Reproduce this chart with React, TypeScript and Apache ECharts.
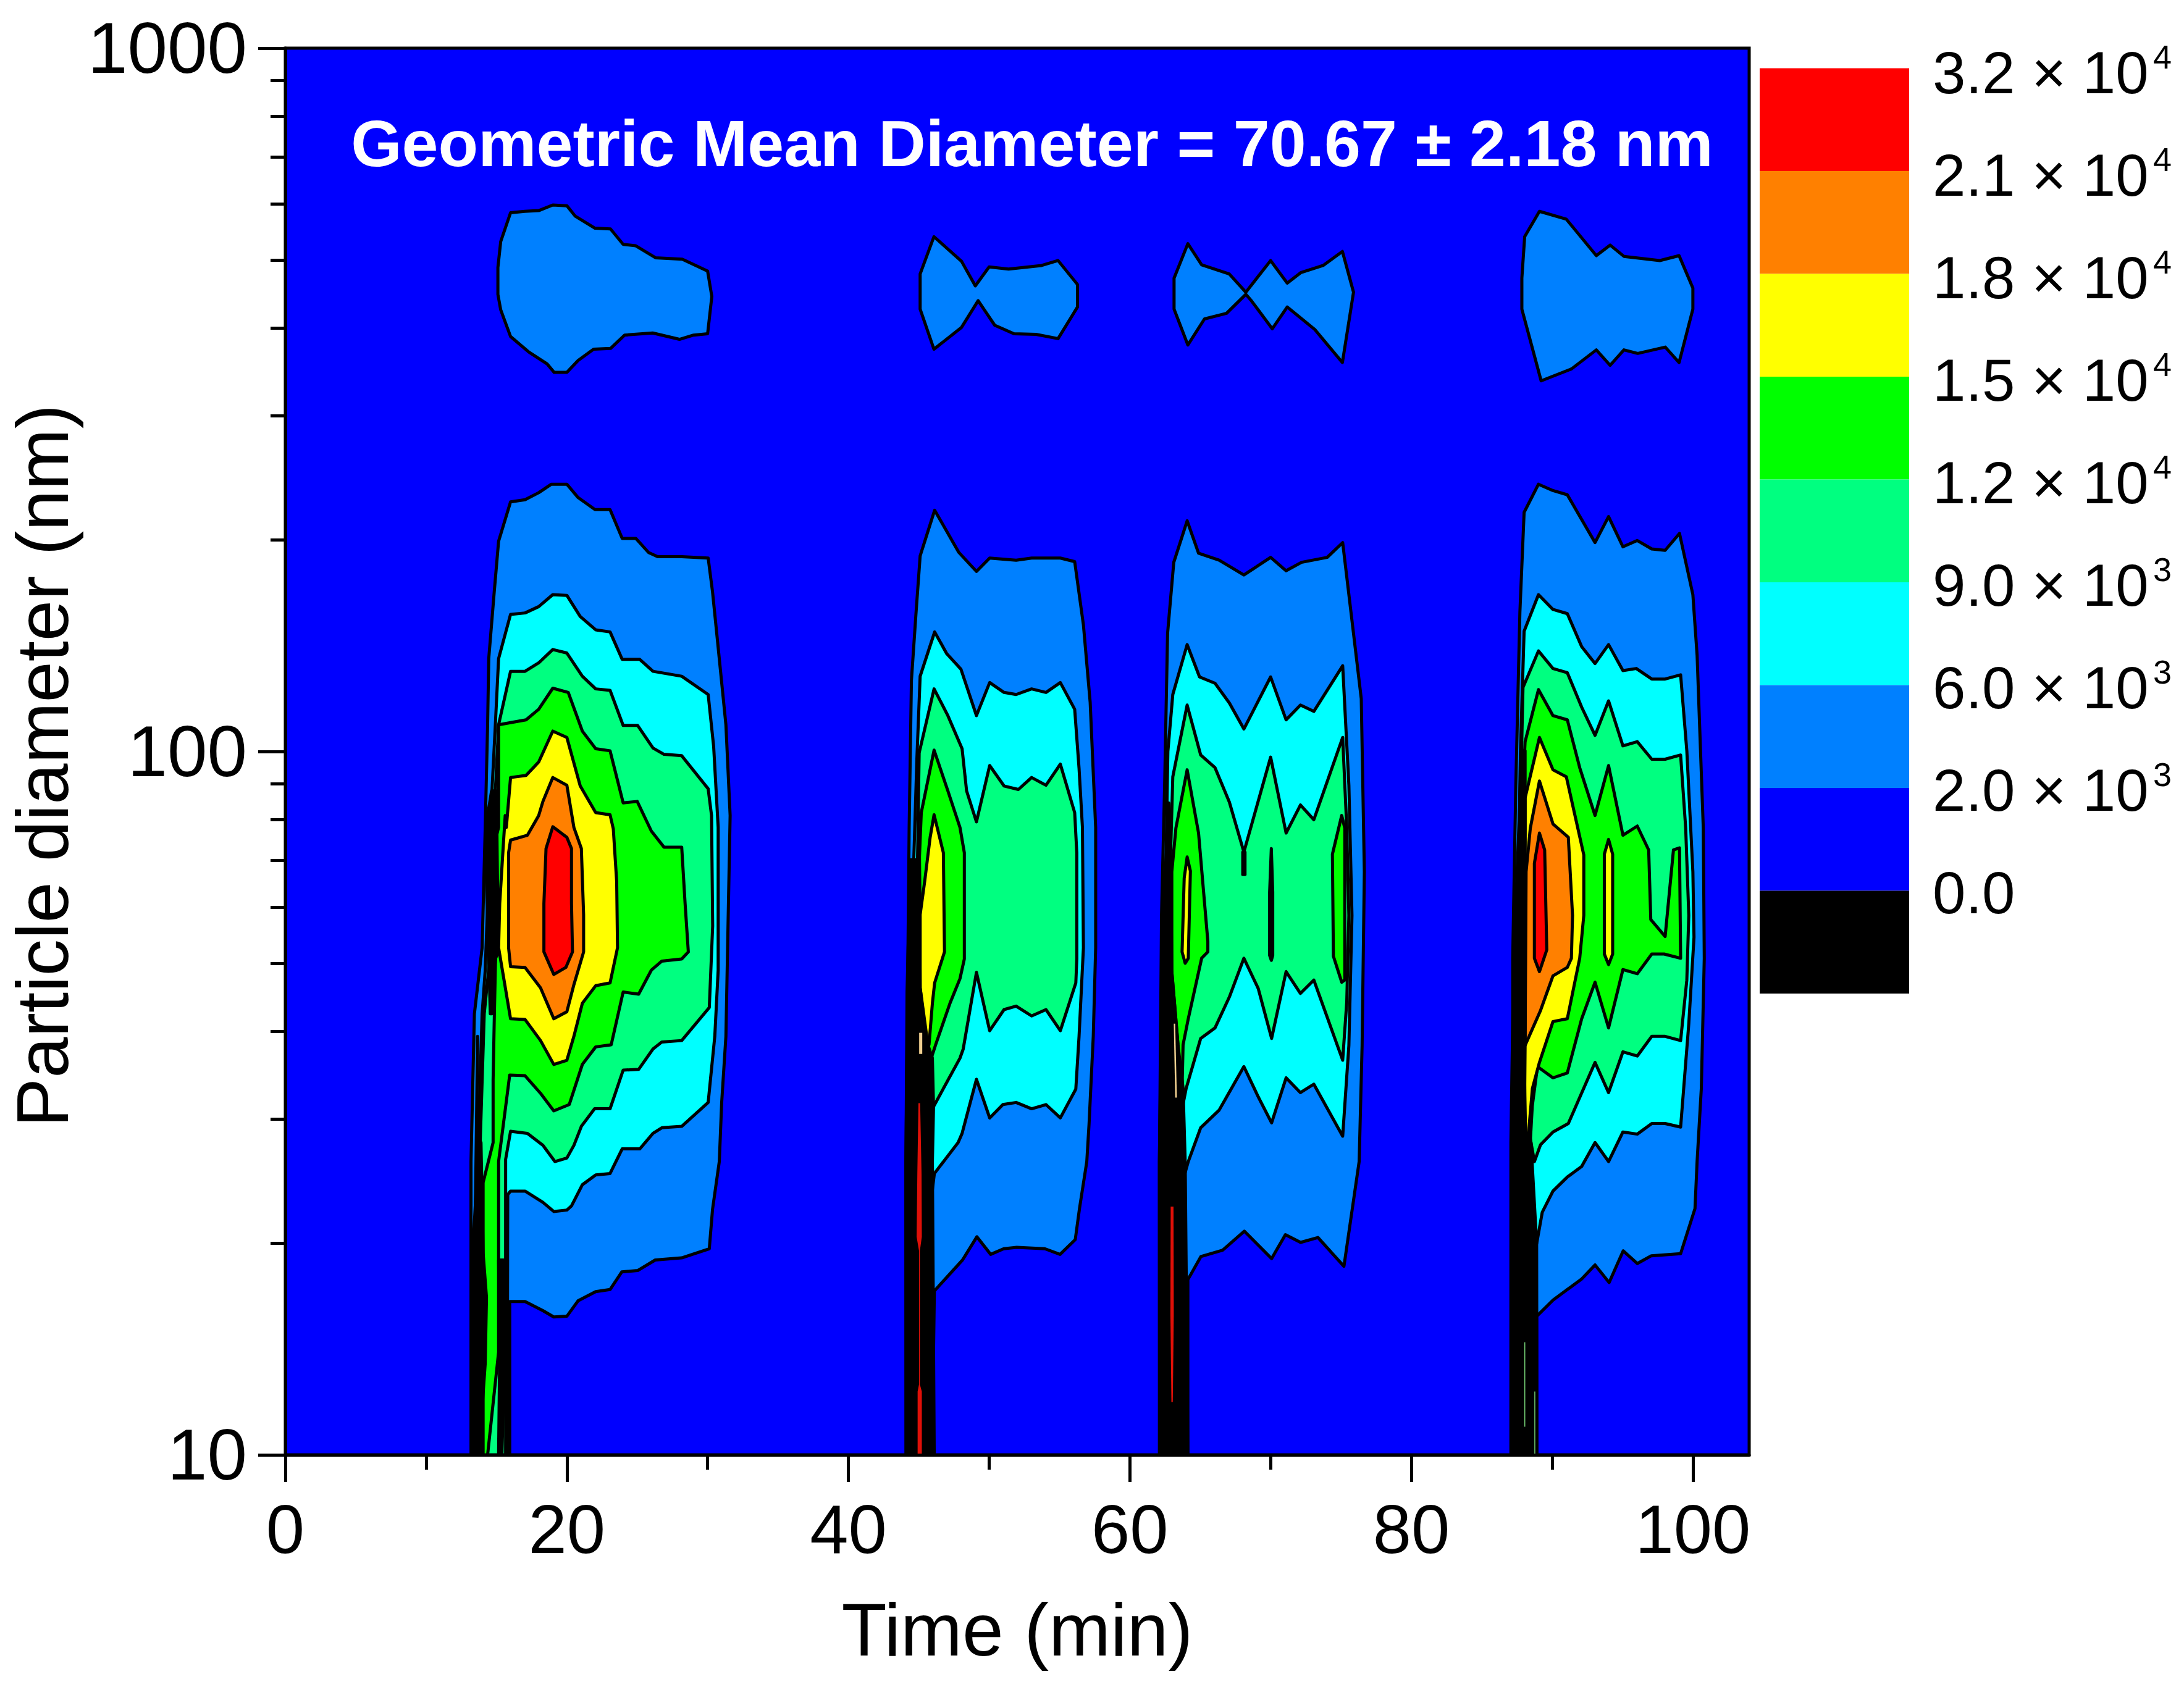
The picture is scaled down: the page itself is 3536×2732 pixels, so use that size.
import React, { useEffect, useRef } from "react";
import * as echarts from "echarts";

// All contour vertices are [time in min, log10(diameter in nm)].
type P = [number, number];

const levelColors = ["#0080FF", "#00FFFF", "#00FF80", "#00FF00", "#FFFF00", "#FF8000", "#FF0000"];
const scaleColors = ["#FF0000", "#FF8000", "#FFFF00", "#00FF00", "#00FF80", "#00FFFF", "#0080FF", "#0000FF", "#000000"];
const scaleMantissa = ["3.2 × 10", "2.1 × 10", "1.8 × 10", "1.5 × 10", "1.2 × 10", "9.0 × 10", "6.0 × 10", "2.0 × 10", "0.0"];
const scaleExponent = ["4", "4", "4", "4", "4", "3", "3", "3", ""];
const xMajorTicks = [0, 20, 40, 60, 80, 100];
const xMinorTicks = [10, 30, 50, 70, 90];
const yMajorTicks = [10, 100, 1000];
const yMinorTicks = [20, 30, 40, 50, 60, 70, 80, 90, 200, 300, 400, 500, 600, 700, 800, 900];

// Upper lobes (2.0e3 level)
const lobe1: P[] = [[16,2.766],[17,2.768],[18,2.769],[19,2.777],[20,2.776],[20.6,2.761],[22,2.744],[23.1,2.743],[24,2.721],[24.9,2.719],[26.3,2.702],[28.2,2.7],[30,2.683],[30.3,2.647],[30,2.594],[29,2.592],[28,2.586],[26.1,2.595],[24.1,2.592],[23.1,2.573],[21.9,2.572],[20.8,2.556],[20,2.539],[19.1,2.539],[18.6,2.551],[17.3,2.568],[16,2.59],[15.3,2.628],[15.1,2.65],[15.1,2.688],[15.3,2.725]];
const lobe2: P[] = [[46.08,2.732],[48.04,2.697],[49.02,2.662],[50,2.689],[51.38,2.686],[53.73,2.691],[54.9,2.698],[56.28,2.664],[56.28,2.632],[54.9,2.587],[53.34,2.593],[51.77,2.594],[50.4,2.606],[49.22,2.641],[48.04,2.603],[46.08,2.572],[45.1,2.629],[45.1,2.679]];
const lobe3: P[] = [[64.12,2.722],[65.1,2.692],[67.06,2.679],[68.24,2.653],[70,2.698],[71.18,2.666],[72.16,2.681],[73.73,2.691],[75.1,2.711],[75.89,2.653],[75.1,2.553],[73.14,2.6],[71.18,2.632],[70.12,2.601],[68.63,2.641],[68.24,2.65],[66.87,2.623],[65.3,2.615],[64.12,2.578],[63.14,2.629],[63.14,2.673]];
const lobe4: P[] = [[89.1,2.768],[91,2.757],[93.14,2.705],[94.12,2.72],[95.1,2.704],[97.65,2.698],[99.02,2.705],[100,2.659],[100,2.629],[99.02,2.553],[98.04,2.575],[96.08,2.566],[95.1,2.571],[94.12,2.549],[93.14,2.571],[91.38,2.544],[89.22,2.527],[87.85,2.629],[87.85,2.673],[88.05,2.732]];

// Burst 1
const b1L2: P[] = [[16,2.355],[17.03,2.358],[18,2.368],[18.9,2.38],[20,2.38],[20.8,2.361],[22,2.344],[23.07,2.344],[23.93,2.303],[24.9,2.303],[25.8,2.283],[26.45,2.277],[28.16,2.277],[30.04,2.275],[30.35,2.227],[30.83,2.132],[31.3,2.038],[31.6,1.909],[31.45,1.752],[31.3,1.595],[31,1.501],[30.83,1.417],[30.35,1.349],[30.12,1.293],[28.16,1.28],[26.28,1.277],[25.03,1.262],[23.9,1.26],[23.07,1.235],[22.05,1.232],[20.8,1.219],[20,1.197],[19.07,1.196],[18.3,1.205],[17.03,1.218],[15.94,1.218],[15.94,1],[13.19,1],[13.19,1.417],[13.43,1.627],[13.98,1.721],[14.2,1.892],[14.37,2.038],[14.45,2.132],[14.84,2.227],[15.15,2.299]];
const b1L6: P[] = [[16,2.195],[17.03,2.197],[18,2.206],[19,2.223],[20,2.222],[20.95,2.192],[22.05,2.173],[23.07,2.17],[23.93,2.131],[25.18,2.131],[26.12,2.114],[28.16,2.107],[30.04,2.081],[30.43,2.007],[30.75,1.892],[30.75,1.689],[30.51,1.595],[30.04,1.501],[28.16,1.467],[26.75,1.465],[26.12,1.457],[25.18,1.435],[23.93,1.435],[23.07,1.4],[22.05,1.398],[21.1,1.384],[20.33,1.354],[20,1.348],[19.07,1.346],[18.3,1.359],[17.03,1.375],[16,1.375],[15.8,1.37],[15.75,1],[13.3,1],[13.35,1.3],[13.66,1.417],[13.98,1.627],[14.2,1.689],[14.6,1.909],[14.68,1.944],[14.92,2.038],[15.15,2.132]];
const b1L9: P[] = [[16,2.114],[17.03,2.114],[18,2.126],[19,2.145],[20,2.14],[21.1,2.107],[22.05,2.089],[23.07,2.087],[24,2.037],[25.03,2.037],[26.12,2.005],[26.9,1.996],[28.16,1.994],[30.04,1.947],[30.28,1.909],[30.36,1.752],[30.12,1.636],[28.16,1.589],[26.75,1.587],[26.12,1.577],[25.1,1.548],[24,1.547],[23.07,1.492],[21.97,1.492],[21.03,1.467],[20.5,1.44],[20,1.422],[19.15,1.417],[18.3,1.44],[17.2,1.457],[16,1.46],[15.65,1.42],[15.65,1],[13.6,1],[13.6,1.3],[13.8,1.417],[14.13,1.627],[14.6,1.721],[14.76,1.909],[14.92,1.944],[15.15,2.038]];
const b1L12: P[] = [[16,2.041],[17.1,2.045],[18,2.06],[19,2.09],[20.1,2.084],[21.1,2.029],[22.05,2.004],[23.07,2.001],[24,1.927],[25,1.929],[26,1.887],[26.9,1.864],[28.16,1.864],[28.4,1.784],[28.63,1.715],[28.16,1.705],[26.75,1.702],[26,1.689],[25.1,1.655],[24,1.658],[23.15,1.583],[22.05,1.58],[21.1,1.555],[20.17,1.498],[19.07,1.489],[18.13,1.514],[17.03,1.539],[15.94,1.54],[15.15,1.417],[15.15,1.146],[14.37,1],[14.05,1],[14.05,1.387],[14.76,1.444],[14.76,1.533],[14.85,1.627],[14.95,1.72],[15,1.88],[15.15,1.892],[15.15,2.038]];
const b1L15: P[] = [[16,1.963],[17.1,1.966],[18,1.985],[19,2.029],[20,2.02],[20.95,1.951],[22.05,1.913],[23.07,1.91],[23.3,1.89],[23.54,1.815],[23.6,1.721],[23.07,1.671],[22.05,1.667],[21.1,1.642],[20.5,1.595],[20,1.561],[19.07,1.555],[18.13,1.589],[17.03,1.619],[16,1.62],[15.15,1.721],[15.23,1.784],[15.47,1.862],[15.62,1.909],[15.7,1.892]];
const b1L18: P[] = [[19,1.963],[20,1.952],[20.5,1.892],[21.03,1.862],[21.19,1.768],[21.19,1.715],[20.48,1.667],[20,1.63],[19.07,1.62],[18.13,1.664],[17.03,1.693],[16,1.694],[15.86,1.721],[15.86,1.856],[16,1.874],[17.2,1.881],[18,1.909],[18.3,1.929]];
const b1L21: P[] = [[19,1.893],[20,1.878],[20.33,1.862],[20.33,1.784],[20.4,1.715],[19.93,1.693],[19.07,1.683],[18.37,1.715],[18.37,1.784],[18.52,1.862]];
const b1StripA: P[] = [[14.65,1.944],[15,1.944],[15.07,1.815],[15.12,1.715],[14.92,1.705],[14.68,1.627],[14.56,1.627],[14.45,1.705],[14.29,1.815],[14.37,1.909]];
const b1StripB: P[] = [[13.66,1.595],[13.58,1.444],[13.9,1.444],[14.05,1.287],[14.29,1.224],[14.2,1.13],[13.98,1.067],[13.9,1],[13.43,1],[13.43,1.193],[13.5,1.349]];
const b1StripC: P[] = [[15.15,1.277],[15.78,1.277],[15.78,1.146],[15.54,1.114],[15.39,1],[15.15,1],[15.23,1.146]];

// Burst 2
const b2L2: P[] = [[45.1,2.278],[46.13,2.343],[47.85,2.283],[49.1,2.256],[50.04,2.275],[51.92,2.272],[53.02,2.275],[55.06,2.275],[56.08,2.27],[56.7,2.18],[57.18,2.07],[57.57,1.892],[57.57,1.721],[57.4,1.595],[57.1,1.47],[56.94,1.417],[56.42,1.35],[56.12,1.306],[55.04,1.285],[53.96,1.293],[51.96,1.295],[51.04,1.293],[50.11,1.285],[49.13,1.31],[48.11,1.277],[46.11,1.233],[45.95,1],[44.1,1],[44.09,1.417],[44.32,1.892],[44.48,2.101],[44.8,2.195]];
const b2L6: P[] = [[45.1,2.107],[46.13,2.17],[46.99,2.139],[48,2.117],[49.1,2.051],[50.04,2.098],[51.06,2.084],[51.92,2.081],[53.02,2.089],[54.04,2.084],[55.06,2.098],[56.08,2.06],[56.39,1.976],[56.63,1.892],[56.7,1.721],[56.39,1.595],[56.16,1.52],[55.06,1.479],[54.04,1.498],[53.02,1.492],[51.92,1.501],[50.98,1.498],[50.04,1.479],[49.1,1.534],[48.08,1.457],[47.8,1.444],[46.11,1.4],[45.5,1.3],[44.5,1.5],[44.5,1.75],[44.87,1.99]];
const b2L9: P[] = [[45.03,1.998],[46.09,2.089],[47.07,2.051],[48.08,2.004],[48.4,1.944],[49.1,1.9],[50.04,1.98],[51.06,1.951],[52.08,1.946],[53.02,1.963],[54.04,1.952],[55.06,1.982],[56.08,1.913],[56.23,1.856],[56.23,1.705],[56.16,1.671],[55.06,1.603],[54.04,1.633],[53.02,1.624],[51.92,1.638],[51.06,1.633],[50.04,1.603],[49.1,1.686],[48.16,1.577],[47.93,1.564],[46.05,1.495],[45,1.45],[44.8,1.7]];
const b2L12: P[] = [[46.09,2.002],[47.07,1.944],[47.93,1.892],[48.24,1.856],[48.24,1.705],[47.93,1.677],[47.22,1.642],[46.2,1.583],[45.89,1.564],[45.2,1.6],[45.05,1.85],[45.18,1.913]];
const b2L15: P[] = [[46.09,1.91],[46.75,1.856],[46.83,1.715],[46.13,1.671],[45.97,1.642],[45.73,1.583],[45.58,1.583],[45.1,1.664],[45.1,1.768],[45.42,1.815],[45.81,1.878]];
const b2Strip: P[] = [[44.4,1.846],[45.03,1.846],[45.1,1.664],[45.65,1.583],[45.97,1.564],[46.05,1.495],[45.97,1.417],[46.1,1],[44.1,1],[44.09,1.417],[44.17,1.658]];
const b2Red: P[] = [[44.98,1.5],[45.1,1.5],[45.2,1.4],[45.22,1.31],[45.08,1.29],[45.08,1.1],[45.22,1.09],[45.22,1],[44.92,1],[44.92,1.09],[45.02,1.1],[45.02,1.29],[44.85,1.31],[44.9,1.4]];
const b2Tan: P[] = [[45.03,1.6],[45.25,1.6],[45.25,1.57],[45.03,1.57]];

// Burst 3
const b3L2: P[] = [[63.12,2.269],[64.07,2.328],[64.88,2.282],[66.34,2.272],[68.1,2.251],[70,2.276],[71.1,2.257],[72.2,2.269],[74.02,2.276],[75.12,2.297],[75.71,2.198],[76.44,2.075],[76.66,1.829],[76.5,1.582],[76.29,1.417],[75.21,1.268],[73.36,1.309],[72.13,1.302],[71.05,1.313],[70.07,1.279],[68.13,1.318],[66.59,1.291],[65.05,1.282],[64.12,1.249],[64.12,1],[62.1,1],[62.1,1.417],[62.25,1.767],[62.47,1.952],[62.68,2.168]];
const b3L6: P[] = [[63.05,2.081],[64.07,2.152],[64.95,2.106],[66.05,2.097],[67.07,2.069],[68.1,2.032],[70,2.106],[71.1,2.045],[72.12,2.066],[73.07,2.057],[75.12,2.122],[75.56,1.952],[75.78,1.767],[75.56,1.582],[75.12,1.453],[73.07,1.527],[72.12,1.515],[71.1,1.536],[70.07,1.472],[69.12,1.509],[68.1,1.552],[66.34,1.49],[65.03,1.465],[64.15,1.417],[63.2,1.35],[62.6,1.5],[62.5,1.77],[62.7,2]];
const b3L9: P[] = [[63.05,1.964],[64.07,2.066],[65.03,1.995],[66.05,1.977],[67.07,1.928],[68.1,1.857],[70,1.992],[71.1,1.884],[72.12,1.924],[73.07,1.903],[75.12,2.02],[75.41,1.891],[75.56,1.767],[75.41,1.644],[75.12,1.561],[73.07,1.675],[72.12,1.656],[71.1,1.687],[70.07,1.592],[69.12,1.663],[68.1,1.706],[67.07,1.651],[66.05,1.607],[65.03,1.592],[64,1.521],[63.3,1.45],[62.8,1.6],[62.75,1.77],[62.9,1.86]];
const b3L12: P[] = [[64.07,1.974],[64.88,1.884],[65.54,1.73],[65.54,1.715],[65.1,1.706],[64.15,1.62],[63.78,1.583],[63.64,1.459],[63.42,1.583],[62.98,1.687],[62.98,1.829],[63.27,1.891]];
const b3L12Center: P[] = [[70.05,1.862],[70.15,1.8],[70.15,1.71],[70.05,1.703],[69.93,1.71],[69.93,1.8]];
const b3L12Right: P[] = [[75.05,1.909],[75.27,1.891],[75.27,1.675],[75.05,1.672],[74.46,1.709],[74.39,1.854]];
const b3Stub: P[] = [[68.02,1.857],[68.18,1.857],[68.18,1.825],[68.02,1.825]];
const b3L15: P[] = [[64.07,1.85],[64.3,1.83],[64.15,1.706],[63.93,1.699],[63.71,1.715],[63.86,1.82]];
const b3Strip: P[] = [[62.76,1.927],[62.9,1.829],[62.98,1.687],[63.42,1.583],[63.78,1.521],[63.93,1.417],[64.12,1],[62.12,1],[62.1,1.417],[62.32,1.767],[62.61,1.86]];
const b3Red: P[] = [[62.9,1.353],[63.1,1.353],[63.12,1.2],[63.05,1.075],[62.95,1.075],[62.88,1.2]];
const b3Tan: P[] = [[63.12,1.613],[63.22,1.613],[63.34,1.508],[63.22,1.508]];

// Burst 4
const b4L2: P[] = [[88.01,2.34],[89.03,2.38],[90.06,2.371],[91.08,2.365],[93.05,2.297],[94.01,2.334],[95.03,2.291],[96.05,2.3],[97.08,2.288],[98.03,2.286],[99.05,2.31],[100,2.223],[100.3,2.137],[100.74,1.891],[100.81,1.706],[100.6,1.521],[100.3,1.417],[100.15,1.35],[99.13,1.286],[97.05,1.283],[96.05,1.272],[95.05,1.29],[94.05,1.245],[93.05,1.27],[92.1,1.25],[91.08,1.235],[90.06,1.22],[88.9,1.197],[88.9,1],[87.1,1],[87.2,1.417],[87.2,1.706],[87.42,1.952],[87.71,2.198]];
const b4L6: P[] = [[88.01,2.171],[89.03,2.223],[90.06,2.202],[91.08,2.196],[92.1,2.149],[93.05,2.125],[94.01,2.152],[95.03,2.115],[95.98,2.118],[97.08,2.103],[98.03,2.103],[99.13,2.109],[99.57,2.001],[100,1.829],[100.08,1.736],[99.71,1.613],[99.13,1.466],[98.03,1.471],[97.08,1.471],[96.05,1.456],[95.03,1.459],[94.01,1.417],[93.05,1.444],[92.1,1.41],[91.08,1.395],[90.06,1.375],[89.3,1.345],[88.9,1.3],[88,1.4],[87.5,1.7],[87.75,2]];
const b4L9: P[] = [[87.93,2.091],[89.03,2.143],[90.06,2.118],[91.08,2.112],[92.1,2.063],[93.05,2.023],[94.01,2.072],[95.03,2.008],[96.05,2.014],[97.08,1.989],[98.03,1.989],[99.13,1.995],[99.49,1.891],[99.71,1.767],[99.57,1.675],[99.13,1.589],[98.03,1.595],[97.08,1.595],[96.05,1.567],[95.03,1.573],[94.01,1.515],[93.05,1.558],[91.15,1.471],[90.06,1.459],[89.18,1.441],[88.74,1.417],[88,1.5],[87.6,1.8]];
const b4L12: P[] = [[88.08,2.014],[89.03,2.088],[90.06,2.051],[91.08,2.045],[91.96,1.977],[93.05,1.909],[94.01,1.98],[95.03,1.881],[96.05,1.894],[96.86,1.86],[97.01,1.761],[98.03,1.737],[98.62,1.86],[99.05,1.863],[99.13,1.706],[97.96,1.712],[97.08,1.712],[96.05,1.684],[95.03,1.69],[94.01,1.607],[93.05,1.672],[92.1,1.62],[91.08,1.543],[90.06,1.536],[88.96,1.552],[88.59,1.496],[88.37,1.417],[88,1.5],[87.8,1.9]];
const b4L15: P[] = [[88.08,1.934],[89.1,2.02],[90.06,1.974],[91.01,1.964],[92.25,1.853],[92.25,1.767],[91.96,1.706],[91.08,1.62],[90.06,1.616],[89.1,1.558],[88.6,1.521],[88.15,1.417],[88.01,1.57],[88.08,1.891]];
const b4L15Island: P[] = [[94.01,1.875],[94.3,1.854],[94.3,1.712],[94.01,1.697],[93.71,1.712],[93.71,1.854]];
const b4L18: P[] = [[89.1,1.958],[90.06,1.897],[91.15,1.878],[91.45,1.767],[91.37,1.706],[91.08,1.693],[90.06,1.681],[89.18,1.632],[88.08,1.582],[88.15,1.829],[88.45,1.891]];
const b4L21: P[] = [[89.1,1.884],[89.47,1.86],[89.62,1.718],[89.1,1.687],[88.74,1.706],[88.74,1.841]];
const b4Strip: P[] = [[87.79,2.001],[88.08,2.001],[88.08,1.582],[88.01,1.417],[88.5,1.444],[88.9,1.3],[88.92,1],[87.07,1],[87.07,1.444],[87.27,1.706],[87.71,1.93]];
const b4Green: P[] = [[88.03,1.16],[88.09,1.16],[88.09,1.04],[88.03,1.04]];
const b4GreenB: P[] = [[88.74,1.09],[88.8,1.09],[88.8,1],[88.74,1]];

const [c2, c6, c9, c12, c15, c18, c21] = levelColors;
const contours: { pts: P[]; fill: string; line: boolean }[] = [
  ...[lobe1, lobe2, lobe3, lobe4].map((pts) => ({ pts, fill: c2, line: true })),
  ...[
    [b1L2, c2], [b1L6, c6], [b1L9, c9], [b1L12, c12], [b1L15, c15], [b1L18, c18], [b1L21, c21],
    [b2L2, c2], [b2L6, c6], [b2L9, c9], [b2L12, c12], [b2L15, c15],
    [b3L2, c2], [b3L6, c6], [b3L9, c9], [b3L12, c12], [b3L12Center, c12], [b3L12Right, c12], [b3L15, c15],
    [b4L2, c2], [b4L6, c6], [b4L9, c9], [b4L12, c12], [b4L15, c15], [b4L15Island, c15], [b4L18, c18], [b4L21, c21],
  ].map(([pts, fill]) => ({ pts: pts as P[], fill: fill as string, line: true })),
  ...[b1StripA, b1StripB, b1StripC, b2Strip, b3Strip, b3Stub, b4Strip].map((pts) => ({ pts, fill: "#000000", line: true })),
  ...[b2Red, b3Red].map((pts) => ({ pts, fill: "#E01008", line: false })),
  ...[b2Tan, b3Tan].map((pts) => ({ pts, fill: "#F0D090", line: false })),
  ...[b4Green, b4GreenB].map((pts) => ({ pts, fill: "#7FE07F", line: false })),
];

const FONT = "Liberation Sans";
const PLOT = { left: 462, right: 2832, top: 78, bottom: 2356 };
const SCALE = { x: 2849, w: 242, top: 110.5, step: 166.5 };

export default function App() {
  const ref = useRef<HTMLDivElement>(null);
  useEffect(() => {
    const chart = echarts.init(ref.current!, null, { renderer: "svg" });
    const hidden = { axisLine: { show: false }, axisLabel: { show: false }, splitLine: { show: false } };
    const line = { lineStyle: { color: "#000", width: 5 } };
    chart.setOption({
      animation: false,
      backgroundColor: "#fff",
      grid: {
        left: PLOT.left, right: 3536 - PLOT.right, top: PLOT.top, bottom: 2732 - PLOT.bottom,
        show: true, backgroundColor: "#0000FF", borderColor: "#000", borderWidth: 5,
      },
      xAxis: [
        {
          type: "value", min: 0, max: 104, interval: 20, z: 10, position: "bottom",
          name: "Time (min)", nameLocation: "middle", nameGap: 223,
          nameTextStyle: { fontFamily: FONT, fontSize: 120, color: "#000" },
          axisLine: { show: true, ...line },
          axisTick: { show: true, length: 44, inside: false, customValues: xMajorTicks, lineStyle: { color: "#000", width: 5 } },
          axisLabel: { fontFamily: FONT, fontSize: 112, color: "#000", margin: 64, customValues: xMajorTicks },
          splitLine: { show: false },
        },
        {
          type: "value", min: 0, max: 104, interval: 20, z: 10, position: "bottom", ...hidden,
          axisTick: { show: true, length: 24, customValues: xMinorTicks, lineStyle: { color: "#000", width: 5 } },
        },
      ],
      yAxis: [
        {
          type: "log", logBase: 10, min: 10, max: 1000, z: 10, position: "left",
          name: "Particle diameter (nm)", nameLocation: "middle", nameGap: 334,
          nameTextStyle: { fontFamily: FONT, fontSize: 119, color: "#000", padding: [0, 46, 0, 0] },
          axisLine: { show: true, ...line },
          axisTick: { show: true, length: 44, customValues: yMajorTicks, lineStyle: { color: "#000", width: 5 } },
          axisLabel: { fontFamily: FONT, fontSize: 116, color: "#000", margin: 62, customValues: yMajorTicks, formatter: (v: number) => String(Math.round(v)) },
          splitLine: { show: false },
          minorTick: { show: false },
        },
        {
          type: "log", logBase: 10, min: 10, max: 1000, z: 10, position: "left", ...hidden,
          axisTick: { show: true, length: 24, customValues: yMinorTicks, lineStyle: { color: "#000", width: 5 } },
        },
      ],
      series: [
        {
          type: "custom",
          coordinateSystem: "cartesian2d",
          clip: true,
          z: 3,
          data: contours.map((c) => [c.pts[0][0], Math.pow(10, c.pts[0][1])]),
          encode: { x: 0, y: 1 },
          renderItem: (params: any, api: any) => {
            const c = contours[params.dataIndex];
            return {
              type: "polygon",
              shape: { points: c.pts.map(([t, e]) => api.coord([t, Math.pow(10, e)])) },
              style: { fill: c.fill, stroke: c.line ? "#000" : "none", lineWidth: c.line ? 5 : 0, lineJoin: "round" },
            };
          },
        },
      ],
      graphic: [
        {
          type: "text", z: 100, x: 1671, y: 232,
          style: {
            text: "Geometric Mean Diameter = 70.67 ± 2.18 nm",
            fill: "#fff", font: `bold 106px "${FONT}"`, textAlign: "center", textVerticalAlign: "middle",
          },
        },
        ...scaleColors.map((fill, i) => ({
          type: "rect", z: 50,
          shape: { x: SCALE.x, y: SCALE.top + i * SCALE.step, width: SCALE.w, height: SCALE.step },
          style: { fill },
        })),
        ...scaleMantissa.map((text, i) => ({
          type: "text", z: 50, x: 3129, y: 117 + i * 166,
          style: { text, fill: "#000", font: `96px "${FONT}"`, textAlign: "left", textVerticalAlign: "middle" },
        })),
        ...scaleExponent.filter(Boolean).map((text, i) => ({
          type: "text", z: 50, x: 3486, y: 92 + i * 166,
          style: { text, fill: "#000", font: `54px "${FONT}"`, textAlign: "left", textVerticalAlign: "middle" },
        })),
      ],
    });
    return () => chart.dispose();
  }, []);
  return <div ref={ref} style={{ position: "fixed", left: 0, top: 0, width: 3536, height: 2732 }} />;
}
